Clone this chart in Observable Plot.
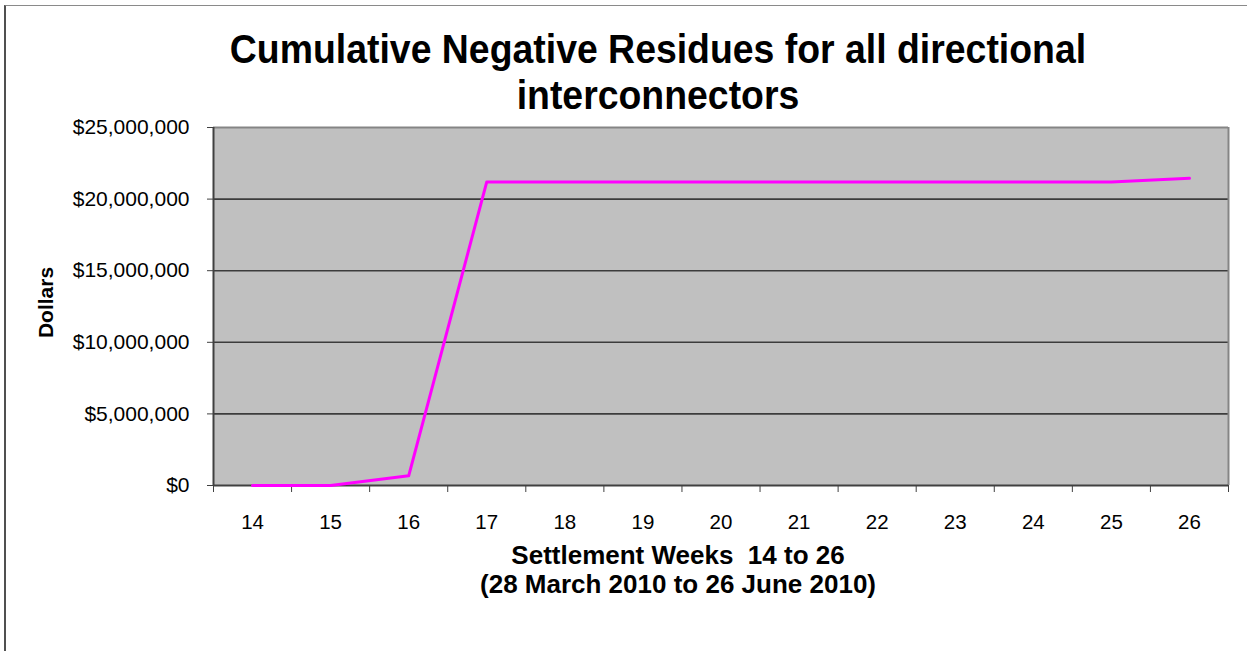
<!DOCTYPE html>
<html>
<head>
<meta charset="utf-8">
<script src="https://cdn.jsdelivr.net/npm/d3@7"></script>
<script src="https://cdn.jsdelivr.net/npm/@observablehq/plot@0.6"></script>
<style>
  html, body { margin: 0; padding: 0; background: #fff; }
  #wrap { position: relative; width: 1247px; height: 651px; overflow: hidden; font-family: "Liberation Sans", Arial, sans-serif; }
  #frame { position: absolute; left: 4px; top: 5px; width: 1400px; height: 800px; border-left: 2px solid #505050; border-top: 1px solid #8a8a8a; box-sizing: border-box; }
  #title { position: absolute; left: 0; top: 26px; width: 1316px; text-align: center; font-weight: bold; font-size: 40px; line-height: 46px; color: #000; transform: scaleX(0.935); transform-origin: 658px 0; white-space: nowrap; }
  #chart { position: absolute; left: 0; top: 0; }
</style>
</head>
<body>
<div id="wrap">
  <div id="frame"></div>
  <div id="chart"></div>
  <div id="title">Cumulative Negative Residues for all directional<br>interconnectors</div>
</div>
<script>
const weeks = [14, 15, 16, 17, 18, 19, 20, 21, 22, 23, 24, 25, 26];
const residues = [0, 0, 680000, 21200000, 21200000, 21200000, 21200000, 21200000, 21200000, 21200000, 21200000, 21200000, 21450000];
const yTicks = [0, 5000000, 10000000, 15000000, 20000000, 25000000];
const yLabel = "Dollars";
const xLabel = "Settlement Weeks  14 to 26\n(28 March 2010 to 26 June 2010)";

const data = weeks.map((w, i) => ({week: w, value: residues[i]}));
const boundaries = weeks.map(w => w - 0.5).concat([weeks[weeks.length - 1] + 0.5]);
const xDomain = [boundaries[0], boundaries[boundaries.length - 1]];
const yDomain = [yTicks[0], yTicks[yTicks.length - 1]];

const chart = Plot.plot({
  width: 1247,
  height: 651,
  marginLeft: 213,
  marginRight: 19,
  marginTop: 127,
  marginBottom: 166,
  style: {fontFamily: "'Liberation Sans', Arial, sans-serif", background: "transparent", color: "#000", overflow: "visible"},
  x: {type: "linear", domain: xDomain},
  y: {domain: yDomain},
  marks: [
    Plot.frame({fill: "#C0C0C0", stroke: null}),
    Plot.gridY(yTicks.filter(v => v > yDomain[0] && v < yDomain[1]), {stroke: "#3c3c3c", strokeOpacity: 1, strokeWidth: 1.6}),
    Plot.ruleY([yDomain[1]], {stroke: "#858585", strokeWidth: 2}),
    Plot.ruleX([xDomain[1]], {stroke: "#858585", strokeWidth: 2}),
    Plot.ruleX([xDomain[0]], {stroke: "#404040", strokeWidth: 2}),
    Plot.ruleY([yDomain[0]], {stroke: "#404040", strokeWidth: 2}),
    Plot.axisY({ticks: yTicks, tickFormat: d3.format("$,"), tickSize: 6, tickPadding: 18, fontSize: 21, label: null, stroke: "#404040"}),
    Plot.axisX({ticks: boundaries, tickFormat: () => "", tickSize: 7, label: null, stroke: "#404040"}),
    Plot.axisX({ticks: weeks, tickFormat: d => String(d), tickSize: 0, tickPadding: 29, fontSize: 20.5, label: null}),
    Plot.line(data, {x: "week", y: "value", stroke: "#FF00FF", strokeWidth: 3}),
    Plot.text([yLabel], {frameAnchor: "left", rotate: -90, dx: -161, dy: -4, fontSize: 21, fontWeight: "bold", textAnchor: "middle", lineAnchor: "bottom", fill: "#000"}),
    Plot.text([xLabel], {frameAnchor: "bottom", dx: -43, dy: 58, fontSize: 26, fontWeight: "bold", lineHeight: 1.115, lineAnchor: "top", fill: "#000"})
  ]
});
document.getElementById("chart").appendChild(chart);
</script>
</body>
</html>
